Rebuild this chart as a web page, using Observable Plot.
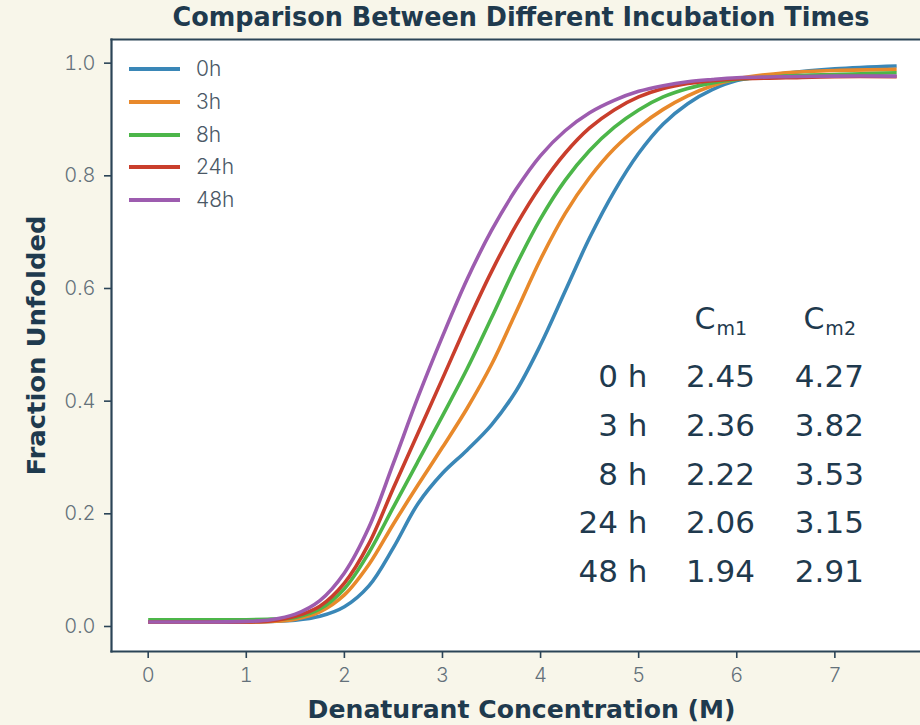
<!DOCTYPE html>
<html><head><meta charset="utf-8">
<script src="https://cdn.jsdelivr.net/npm/d3@7"></script>
<script src="https://cdn.jsdelivr.net/npm/@observablehq/plot@0.6"></script>
<style>
html,body{margin:0;padding:0;background:#f8f6ea;overflow:hidden}
#chart{position:relative;width:920px;height:725px}
#legend{position:absolute;left:0;top:0;z-index:2}
.li{position:absolute;left:129px;width:51px;height:4px}
.lt{position:absolute;left:196px;font-family:Inter,"Open Sans",sans-serif;font-weight:300;font-size:21px;color:#4a5866;line-height:22px}
</style></head><body><div id="chart"><div id="legend"></div></div>
<script>
// ---------- data ----------
const conc = [0,0.5,1,1.25,1.5,1.75,2,2.25,2.5,2.75,3,3.25,3.5,3.75,4,4.25,4.5,4.75,5,5.25,5.5,5.75,6,6.5,7,7.63];
const times = ["0h","3h","8h","24h","48h"];
const colors = ["#3a87b7","#e8892b","#4cb649","#c93e2c","#9d5caf"];
const frac0h  = [0.008,0.008,0.008,0.009,0.011,0.018,0.035,0.072,0.140,0.218,0.272,0.313,0.358,0.418,0.500,0.595,0.690,0.772,0.840,0.892,0.928,0.953,0.969,0.982,0.990,0.995];
const frac3h  = [0.008,0.008,0.008,0.009,0.013,0.026,0.056,0.110,0.182,0.251,0.318,0.387,0.465,0.558,0.652,0.733,0.797,0.848,0.887,0.918,0.942,0.960,0.972,0.983,0.987,0.989];
const frac8h  = [0.012,0.012,0.012,0.013,0.016,0.031,0.067,0.131,0.212,0.293,0.374,0.457,0.548,0.641,0.724,0.792,0.845,0.886,0.917,0.940,0.955,0.965,0.971,0.977,0.980,0.983];
const frac24h = [0.008,0.008,0.008,0.010,0.018,0.036,0.077,0.147,0.246,0.343,0.440,0.538,0.630,0.712,0.782,0.840,0.885,0.917,0.940,0.955,0.964,0.969,0.972,0.974,0.976,0.976];
const frac48h = [0.008,0.008,0.009,0.012,0.022,0.046,0.095,0.176,0.290,0.407,0.515,0.616,0.703,0.776,0.836,0.880,0.912,0.934,0.950,0.960,0.967,0.971,0.974,0.976,0.977,0.977];
const tableTimes = ["0 h","3 h","8 h","24 h","48 h"];
const cm1 = ["2.45","2.36","2.22","2.06","1.94"];
const cm2 = ["4.27","3.82","3.53","3.15","2.91"];
const cmHeads = ["m1","m2"];
const xTicks = [0,1,2,3,4,5,6,7];
const yTicks = [0,0.2,0.4,0.6,0.8,1.0];
const titleText = "Comparison Between Different Incubation Times";
const xLabel = "Denaturant Concentration (M)";
const yLabel = "Fraction Unfolded";

// ---------- build ----------
const seriesVals = [frac0h, frac3h, frac8h, frac24h, frac48h];
const rows = times.flatMap((t, k) => conc.map((c, i) => ({t, c, f: seriesVals[k][i]})));
const tableRows = tableTimes.map((t, i) => ({t, a: cm1[i], b: cm2[i], i}));
const T = {top: 0.442, step: 0.0862, xLab: 5.09, xA: 5.834, xB: 6.944, head: 0.545, sub: 0.529};
const ink = "#1f3a4e", frameC = "#2b4457", tickC = "#64717a";
const labFont = "'DejaVu Sans', sans-serif";
const tabFont = "'DejaVu Sans', Verdana, sans-serif";
const tickFont = "Inter, 'Open Sans', sans-serif";

const plot = Plot.plot({
  width: 920, height: 725,
  marginLeft: 111, marginRight: 0, marginTop: 39, marginBottom: 74,
  style: {background: "transparent", overflow: "visible"},
  x: {domain: [-0.374, 7.873]},
  y: {domain: [-0.0444, 1.042]},
  color: {domain: times, range: colors},
  marks: [
    Plot.frame({fill: "white", stroke: null}),
    Plot.line(rows, {x: "c", y: "f", z: "t", stroke: "t", strokeWidth: 3.6, curve: "catmull-rom", strokeLinecap: "butt"}),
    Plot.axisX(xTicks, {tickSize: 7, tickPadding: 9, stroke: frameC, strokeWidth: 1.6, fontSize: 20, fontFamily: tickFont, fontWeight: 300, label: null, tickFormat: d => String(d)}),
    Plot.axisY(yTicks, {tickSize: 7, tickPadding: 9, stroke: frameC, strokeWidth: 1.6, fontSize: 20, fontFamily: tickFont, fontWeight: 300, label: null, tickFormat: d3.format(".1f")}),
    Plot.frame({anchor: "top", stroke: frameC, strokeWidth: 2.2}),
    Plot.frame({anchor: "left", stroke: frameC, strokeWidth: 2.2}),
    Plot.frame({anchor: "bottom", stroke: frameC, strokeWidth: 2.2}),
    // table
    Plot.text(tableRows, {x: () => T.xLab, y: d => T.top - d.i * T.step, text: "t", textAnchor: "end", fontSize: 31, fontFamily: tabFont, fill: ink}),
    Plot.text(tableRows, {x: () => T.xA, y: d => T.top - d.i * T.step, text: "a", textAnchor: "middle", fontSize: 31, fontFamily: tabFont, fill: ink}),
    Plot.text(tableRows, {x: () => T.xB, y: d => T.top - d.i * T.step, text: "b", textAnchor: "middle", fontSize: 31, fontFamily: tabFont, fill: ink}),
    Plot.text(cmHeads, {x: (d, i) => [T.xA, T.xB][i], y: () => T.head, text: () => "C", textAnchor: "end", dx: -5, fontSize: 30, fontFamily: tabFont, fill: ink}),
    Plot.text(cmHeads, {x: (d, i) => [T.xA, T.xB][i], y: () => T.sub, text: d => d, textAnchor: "start", dx: -4, fontSize: 19, fontFamily: tabFont, fill: ink}),
    // titles
    Plot.text([titleText], {frameAnchor: "top", lineAnchor: "middle", textAnchor: "middle", dy: -22, dx: 5, text: d => d, fontSize: 26, fontWeight: "bold", fontFamily: labFont, fill: ink}),
    Plot.text([xLabel], {frameAnchor: "bottom", lineAnchor: "middle", textAnchor: "middle", dy: 58, dx: 5.6, text: d => d, fontSize: 25, fontWeight: "bold", fontFamily: labFont, fill: ink}),
    Plot.text([yLabel], {frameAnchor: "left", lineAnchor: "middle", textAnchor: "middle", dx: -75, rotate: -90, text: d => d, fontSize: 25, fontWeight: "bold", fontFamily: labFont, fill: ink})
  ]
});

const svg = d3.select(plot);
svg.selectAll('g[aria-label="x-axis tick label"], g[aria-label="y-axis tick label"]')
  .attr("fill", tickC).attr("stroke", "none").attr("font-family", tickFont).attr("font-weight", 300);
const lens = {[titleText]: 697, [xLabel]: 428, [yLabel]: 260};
svg.selectAll("text").each(function () {
  const L = lens[this.textContent];
  if (L) { this.setAttribute("textLength", L); this.setAttribute("lengthAdjust", "spacingAndGlyphs"); }
});
document.getElementById("chart").appendChild(plot);

// legend
const lg = document.getElementById("legend");
times.forEach((t, i) => {
  const cy = 69 + i * 32.8;
  const ln = document.createElement("div");
  ln.className = "li"; ln.style.top = (cy - 2) + "px"; ln.style.background = colors[i];
  const tx = document.createElement("div");
  tx.className = "lt"; tx.style.top = (cy - 11) + "px"; tx.textContent = t;
  lg.appendChild(ln); lg.appendChild(tx);
});
</script></body></html>
